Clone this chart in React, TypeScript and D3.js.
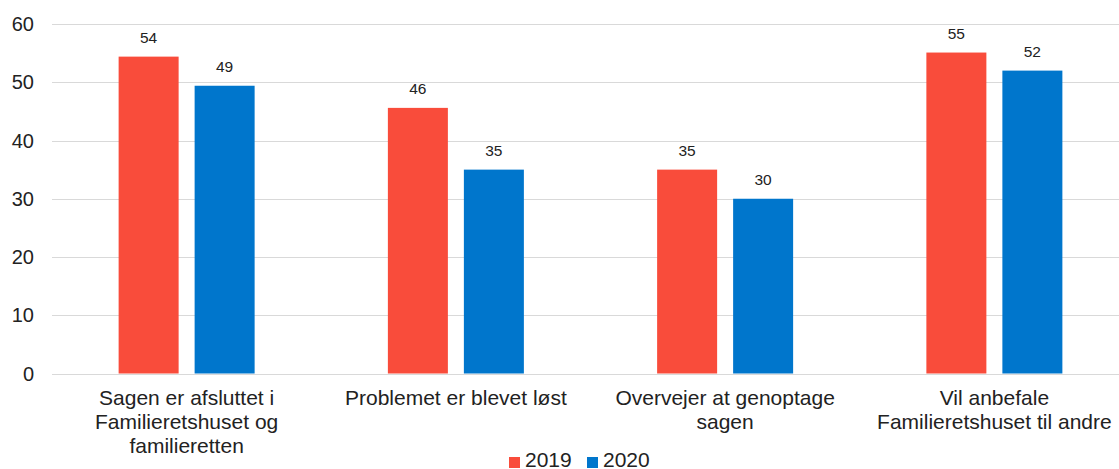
import React from "react";
import * as d3 from "d3";

const categories: string[][] = [
  ["Sagen er afsluttet i", "Familieretshuset og", "familieretten"],
  ["Problemet er blevet løst"],
  ["Overvejer at genoptage", "sagen"],
  ["Vil anbefale", "Familieretshuset til andre"],
];
const series = ["2019", "2020"];
const values2019 = [54.4, 45.6, 35, 55.1];
const values2020 = [49.4, 35, 30, 52];
const yTicks = [0, 10, 20, 30, 40, 50, 60];
const colors = ["#F94C3B", "#0076CC"];

const W = 1119;
const H = 469;
const FONT = "'Liberation Sans', Arial, sans-serif";

export default function App() {
  const x = d3.scaleBand<number>().domain(categories.map((_, i) => i)).range([52, 1129]).padding(0);
  const bw = x.bandwidth();
  const groupW = 136;
  const xs = d3
    .scaleBand<string>()
    .domain(series)
    .range([(bw - groupW) / 2, (bw + groupW) / 2])
    .paddingInner(16 / 76)
    .paddingOuter(0);
  const y = d3.scaleLinear().domain([0, 60]).range([373.5, 24]);
  const data = [values2019, values2020];
  const fmt = d3.format(".0f");

  return (
    <svg
      width={W}
      height={H}
      style={{ position: "absolute", left: 0, top: 0, background: "#fff" }}
      fontFamily={FONT}
    >
      {yTicks.map((t) => (
        <g key={t}>
          <line x1={52} x2={W} y1={Math.round(y(t)) + 0.5} y2={Math.round(y(t)) + 0.5} stroke="#d9d9d9" strokeWidth={1} />
          <text x={34} y={y(t)} dy="0.35em" textAnchor="end" fontSize={20} fill="#222">
            {t}
          </text>
        </g>
      ))}
      {categories.map((_, ci) =>
        series.map((s, si) => {
          const v = data[si][ci];
          const bx = (x(ci) as number) + (xs(s) as number);
          return (
            <g key={`${ci}-${s}`}>
              <rect x={bx} y={y(v)} width={xs.bandwidth()} height={y(0) - y(v)} fill={colors[si]} />
              <text
                x={bx + xs.bandwidth() / 2}
                y={y(v) - 14}
                textAnchor="middle"
                fontSize={15.5}
                fill="#222"
              >
                {fmt(v)}
              </text>
            </g>
          );
        })
      )}
      {categories.map((lines, ci) => (
        <text
          key={ci}
          x={(x(ci) as number) + bw / 2}
          y={405}
          textAnchor="middle"
          fontSize={21}
          fill="#222"
        >
          {lines.map((l, li) => (
            <tspan key={li} x={(x(ci) as number) + bw / 2} y={405 + li * 24}>
              {l}
            </tspan>
          ))}
        </text>
      ))}
      {series.map((s, si) => {
        const lx = 509 + si * 78;
        return (
          <g key={s}>
            <rect x={lx} y={457} width={11} height={11} fill={colors[si]} />
            <text x={lx + 16} y={467} fontSize={21} fill="#222">
              {s}
            </text>
          </g>
        );
      })}
    </svg>
  );
}
